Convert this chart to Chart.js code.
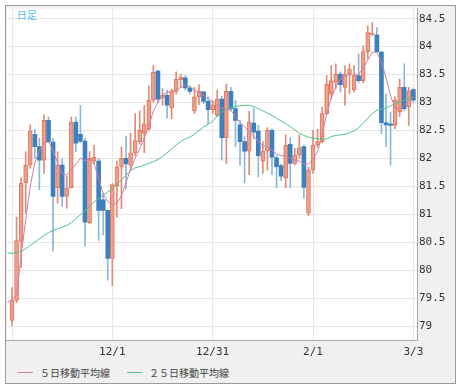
<!DOCTYPE html>
<html>
<head>
<meta charset="utf-8">
<script src="https://cdn.jsdelivr.net/npm/chart.js@4.4.1/dist/chart.umd.min.js"></script>
<style>
  html, body { margin: 0; padding: 0; background: #fff; }
  #frame { position: absolute; left: 5px; top: 5px; width: 449px; height: 377px; border: 1px solid #9a9a9a; background: #f0f0f0; }
  #chartBox { position: absolute; left: 0; top: -6px; width: 449px; height: 362px; }
  #kind { position: absolute; left: 11px; top: 1px; font: 10px "Noto Sans CJK JP"; color: #4fb6ec; }
  #legend { position: absolute; left: 12px; top: 357px; height: 18px; display: flex; align-items: center; font: 10px "Noto Sans CJK JP"; color: #444; }
  #legend .item { display: flex; align-items: center; margin-right: 17px; }
  #legend .line { width: 15px; height: 1px; margin-right: 7px; }
</style>
</head>
<body>
<div id="frame">
  <div id="chartBox"><canvas id="myChart"></canvas></div>
  <div id="kind">日足</div>
  <div id="legend"></div>
</div>
<script>
// 日足 OHLC (index 0 = first candle)
const opens  = [79.10,79.46,80.52,81.56,81.88,82.43,82.21,81.97,82.68,82.29,81.47,81.88,81.32,81.47,82.65,82.43,82.31,80.85,81.95,81.95,81.26,81.07,80.21,81.50,81.85,82.00,81.88,82.10,82.30,82.45,
                82.53,83.04,83.56,83.08,83.13,82.90,83.20,83.41,83.44,83.26,82.85,83.10,83.19,83.02,82.87,82.77,83.06,82.37,83.20,82.89,82.60,82.30,82.13,82.63,82.49,81.95,82.13,82.50,82.01,81.87,
                81.65,82.25,81.91,82.06,82.21,81.02,81.79,82.24,82.30,82.80,83.16,83.36,83.51,83.27,83.51,83.23,83.48,83.39,83.91,84.22,84.21,83.90,82.64,82.62,82.59,82.83,83.27,82.92,83.23];
const highs  = [79.69,80.95,81.65,82.12,82.60,82.52,82.36,82.78,82.74,82.36,82.12,81.99,81.68,82.74,82.74,82.95,82.36,82.12,82.24,82.00,81.38,81.07,81.55,81.95,82.20,82.40,82.45,82.80,82.85,82.95,
                83.30,83.66,83.58,83.25,83.22,83.24,83.55,83.51,83.48,83.30,83.27,83.32,83.20,83.10,83.03,83.22,83.11,83.33,83.27,83.04,82.68,82.39,82.84,82.90,82.59,82.30,82.55,82.53,82.05,81.90,
                82.42,82.37,82.18,82.42,82.24,81.85,82.50,82.52,82.92,83.48,83.66,83.69,83.55,83.66,83.69,83.66,83.87,84.01,84.37,84.43,84.34,83.91,83.15,82.83,83.10,83.42,83.69,83.27,83.25];
const lows   = [79.01,79.42,80.05,81.02,81.82,82.00,81.44,81.73,82.28,80.34,81.20,81.14,81.11,81.47,82.12,82.28,80.43,80.83,81.90,80.53,80.63,79.82,79.72,80.95,81.10,81.45,81.80,82.05,82.25,82.10,
                82.50,83.00,83.00,82.95,82.72,82.71,83.15,83.27,83.22,83.15,82.80,82.96,82.98,82.62,82.80,82.75,81.97,81.91,82.85,82.21,81.88,81.56,81.71,82.35,81.67,81.73,81.79,81.71,81.47,81.60,
                81.47,81.47,81.88,82.00,81.29,80.97,81.73,82.20,82.27,82.78,83.07,83.25,83.19,82.95,83.16,83.19,83.35,83.35,83.78,84.19,83.90,82.44,82.21,81.88,82.53,82.75,82.85,82.59,83.00];
const closes = [79.46,80.53,81.56,81.88,82.49,82.21,81.97,82.68,82.30,81.32,81.88,81.32,81.47,82.65,82.27,82.31,80.86,82.00,82.02,81.07,81.07,80.21,81.53,81.85,82.00,81.90,82.10,82.32,82.50,82.62,
                83.04,83.54,83.06,83.13,82.95,83.20,83.42,83.45,83.26,83.20,83.10,83.20,83.02,82.87,82.96,83.06,82.37,83.20,82.89,82.68,82.30,82.13,82.65,82.47,82.05,82.13,82.50,82.02,81.85,81.68,
                82.24,81.91,82.06,82.19,81.48,81.79,82.24,82.30,82.80,83.33,83.39,83.51,83.32,83.51,83.60,83.48,83.39,83.91,84.25,84.24,83.91,82.64,82.60,82.59,83.04,83.27,82.89,83.21,83.04];

// 移動平均線 (first value sits one day before the first candle)
const ma5  = [79.42,79.47,79.55,80.25,80.90,81.50,81.92,82.14,82.27,82.30,82.14,81.92,81.72,81.70,81.80,81.90,82.00,81.96,81.98,81.90,81.65,81.36,81.23,81.17,81.20,81.33,81.57,81.80,82.00,82.17,
              82.36,82.58,82.85,83.00,83.13,83.18,83.20,83.22,83.27,83.30,83.28,83.22,83.18,83.13,83.06,83.02,82.95,82.90,82.88,82.86,82.75,82.64,82.57,82.47,82.40,82.30,82.23,82.20,82.14,82.08,
              82.05,82.04,82.00,81.97,81.95,81.90,81.90,81.98,82.12,82.42,82.80,83.08,83.28,83.42,83.48,83.50,83.49,83.50,83.62,83.76,83.90,83.90,83.72,83.45,83.12,82.90,82.88,82.95,83.04,83.10];
const ma25 = [80.31,80.30,80.31,80.34,80.38,80.44,80.50,80.56,80.62,80.67,80.71,80.74,80.77,80.80,80.85,80.92,80.99,81.06,81.14,81.22,81.28,81.34,81.40,81.46,81.54,81.62,81.70,81.78,81.83,81.85,
              81.88,81.91,81.94,81.98,82.04,82.10,82.17,82.24,82.30,82.35,82.38,82.43,82.50,82.56,82.61,82.66,82.76,82.83,82.88,82.91,82.93,82.94,82.95,82.95,82.93,82.89,82.85,82.81,82.77,82.72,
              82.67,82.62,82.57,82.51,82.45,82.41,82.38,82.36,82.35,82.34,82.35,82.39,82.41,82.42,82.43,82.46,82.49,82.55,82.63,82.72,82.80,82.86,82.88,82.90,82.94,82.98,83.01,83.04,83.07,83.10];

// x axis date labels (candle index -> label)
const tickIndex  = [0, 22, 44, 66, 88];
const tickLabels = ["", "12/1", "12/31", "2/1", "3/3"];

const seriesNames = ["５日移動平均線", "２５日移動平均線"];
const seriesColors = ["#cf7fa6", "#4fc489"];

const isUp = (i) => closes[i] >= opens[i];

const wickData = opens.map((o, i) => ({ x: i, y: [lows[i], highs[i]] }));
const bodyData = opens.map((o, i) => ({ x: i, y: [o, closes[i]] }));
const ma5Data  = ma5.map((v, i) => ({ x: i - 1, y: v }));
const ma25Data = ma25.map((v, i) => ({ x: i - 1, y: v }));

// 描画エリアだけ白く塗る
const plotBg = {
    id: "plotBg",
    beforeDraw(chart) {
        const a = chart.chartArea;
        chart.ctx.save();
        chart.ctx.fillStyle = "#ffffff";
        chart.ctx.fillRect(a.left, a.top, a.right - a.left, a.bottom - a.top);
        chart.ctx.restore();
    },
};

new Chart(document.getElementById("myChart"), {
    type: "bar",
    data: {
        datasets: [
            {
                type: "line",
                label: seriesNames[0],
                data: ma5Data,
                borderColor: seriesColors[0],
                borderWidth: 1,
                pointRadius: 0,
                tension: 0,
                order: 1,
            },
            {
                type: "line",
                label: seriesNames[1],
                data: ma25Data,
                borderColor: seriesColors[1],
                borderWidth: 1,
                pointRadius: 0,
                tension: 0,
                order: 1,
            },
            {
                label: "body",
                data: bodyData,
                grouped: false,
                barThickness: 4,
                minBarLength: 1,
                borderSkipped: false,
                borderWidth: (c) => (isUp(c.dataIndex) ? 1 : 0),
                borderColor: "#e27a62",
                backgroundColor: (c) => (isUp(c.dataIndex) ? "rgba(244,178,160,0.5)" : "#3d80c0"),
                order: 2,
            },
            {
                label: "wick",
                data: wickData,
                grouped: false,
                barThickness: 1,
                borderWidth: 0,
                backgroundColor: (c) => (isUp(c.dataIndex) ? "#e58a74" : "#8bb7de"),
                order: 3,
            },
        ],
    },
    options: {
        responsive: true,
        maintainAspectRatio: false,
        animation: false,
        layout: { padding: 0 },
        plugins: {
            legend: { display: false },
            tooltip: { enabled: false },
        },
        scales: {
            x: {
                type: "linear",
                min: -1.1,
                max: 88.8,
                offset: false,
                afterBuildTicks: (scale) => {
                    scale.ticks = tickIndex.map((v) => ({ value: v }));
                },
                afterFit: (scale) => {
                    scale.height = 22;
                },
                ticks: {
                    autoSkip: false,
                    maxRotation: 0,
                    padding: 6,
                    color: "#333",
                    font: { family: "DejaVu Sans Mono", size: 11 },
                    callback: (v) => tickLabels[tickIndex.indexOf(v)] || "",
                },
                grid: { color: "#e6e6e6", drawTicks: false, offset: false },
                border: { color: "#a8a8a8" },
            },
            y: {
                position: "right",
                min: 78.75,
                max: 84.68,
                afterFit: (scale) => {
                    scale.width = 38;
                },
                ticks: {
                    stepSize: 0.5,
                    includeBounds: false,
                    padding: 2,
                    color: "#333",
                    font: { family: "DejaVu Sans Mono", size: 11 },
                    callback: (v) => String(Math.round(v * 10) / 10),
                },
                grid: { color: "#e6e6e6", drawTicks: false },
                border: { color: "#a8a8a8" },
            },
        },
    },
    plugins: [plotBg],
});

// 凡例
const legend = document.getElementById("legend");
seriesNames.forEach((name, i) => {
    const item = document.createElement("div");
    item.className = "item";
    const line = document.createElement("span");
    line.className = "line";
    line.style.background = seriesColors[i];
    const text = document.createElement("span");
    text.textContent = name;
    item.appendChild(line);
    item.appendChild(text);
    legend.appendChild(item);
});
</script>
</body>
</html>
